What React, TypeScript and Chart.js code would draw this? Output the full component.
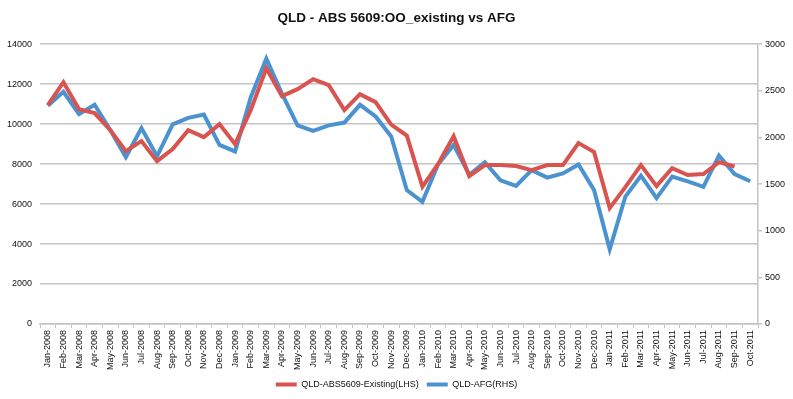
import React, { useEffect, useRef } from "react";
import { Chart, registerables } from "chart.js";

Chart.register(...registerables);

const categories: string[] = [
  "Jan-2008", "Feb-2008", "Mar-2008", "Apr-2008", "May-2008", "Jun-2008", "Jul-2008", "Aug-2008", "Sep-2008", "Oct-2008", "Nov-2008", "Dec-2008",
  "Jan-2009", "Feb-2009", "Mar-2009", "Apr-2009", "May-2009", "Jun-2009", "Jul-2009", "Aug-2009", "Sep-2009", "Oct-2009", "Nov-2009", "Dec-2009",
  "Jan-2010", "Feb-2010", "Mar-2010", "Apr-2010", "May-2010", "Jun-2010", "Jul-2010", "Aug-2010", "Sep-2010", "Oct-2010", "Nov-2010", "Dec-2010",
  "Jan-2011", "Feb-2011", "Mar-2011", "Apr-2011", "May-2011", "Jun-2011", "Jul-2011", "Aug-2011", "Sep-2011", "Oct-2011",
];

// Left axis (LHS)
const absExisting: (number | null)[] = [
  10950, 12100, 10750, 10550, 9700, 8650, 9150, 8150, 8750, 9700, 9350, 10000,
  9000, 10700, 12800, 11400, 11750, 12250, 11950, 10700, 11500, 11100, 9980, 9430,
  6870, 8000, 9400, 7400, 7950, 7950, 7900, 7700, 7950, 7950, 9050, 8600,
  5800, 6850, 7950, 6900, 7800, 7450, 7500, 8100, 7880, null,
];

// Right axis (RHS)
const afg: number[] = [
  2340, 2490, 2250, 2350, 2080, 1790, 2100, 1800, 2140, 2210, 2245, 1920,
  1850, 2430, 2845, 2470, 2130, 2070, 2130, 2160, 2350, 2225, 2010, 1435,
  1310, 1710, 1920, 1600, 1735, 1540, 1480, 1650, 1570, 1615, 1710, 1435,
  800, 1365, 1590, 1350, 1580, 1530, 1470, 1805, 1608, 1530,
];

const seriesNames = ["QLD-ABS5609-Existing(LHS)", "QLD-AFG(RHS)"];
const chartTitle = "QLD - ABS 5609:OO_existing vs AFG";

const RED = "#d9534f";
const BLUE = "#4a93d0";
const GRID = "#c4c4c4";
const FONT = "'Liberation Sans', Arial, sans-serif";

export default function App() {
  const ref = useRef<HTMLCanvasElement | null>(null);

  useEffect(() => {
    document.body.style.margin = "0";
    const canvas = ref.current;
    if (!canvas) return;
    const chart = new Chart(canvas, {
      type: "line",
      data: {
        labels: categories,
        datasets: [
          {
            label: seriesNames[0],
            data: absExisting,
            borderColor: RED,
            backgroundColor: RED,
            borderWidth: 4,
            pointRadius: 0,
            tension: 0,
            yAxisID: "y",
          },
          {
            label: seriesNames[1],
            data: afg,
            borderColor: BLUE,
            backgroundColor: BLUE,
            borderWidth: 4,
            pointRadius: 0,
            tension: 0,
            yAxisID: "y1",
          },
        ],
      },
      options: {
        responsive: false,
        animation: false,
        maintainAspectRatio: false,
        layout: { padding: { left: 0, right: 0, top: 0, bottom: 0 } },
        plugins: {
          tooltip: { enabled: false },
          title: {
            display: true,
            text: chartTitle,
            color: "#111",
            font: { family: FONT, size: 13.5, weight: "bold" },
            padding: { top: 10, bottom: 18 },
          },
          legend: {
            position: "bottom",
            labels: {
              color: "#111",
              font: { family: FONT, size: 9 },
              boxWidth: 21,
              boxHeight: 4,
              padding: 8,
              generateLabels: (c: any) =>
                Chart.defaults.plugins.legend.labels.generateLabels(c).map((l: any) => ({
                  ...l,
                  lineWidth: 0,
                })),
            },
          },
        },
        scales: {
          x: {
            type: "category",
            offset: true,
            grid: {
              display: true,
              drawOnChartArea: false,
              drawTicks: true,
              tickLength: 4,
              color: GRID,
              offset: true,
            },
            border: { display: true, color: GRID, width: 1.5 },
            ticks: {
              autoSkip: false,
              maxRotation: 90,
              minRotation: 90,
              color: "#111",
              font: { family: FONT, size: 9 },
              padding: 2,
            },
          },
          y: {
            type: "linear",
            position: "left",
            min: 0,
            max: 14000,
            afterFit: (s: any) => {
              s.width = 40;
            },
            ticks: {
              stepSize: 2000,
              color: "#111",
              font: { family: FONT, size: 9 },
              padding: 8,
              callback: (v: any) => String(v),
            },
            grid: { color: GRID, lineWidth: 1.5, drawTicks: false },
            border: { display: false },
          },
          y1: {
            type: "linear",
            position: "right",
            min: 0,
            max: 3000,
            afterFit: (s: any) => {
              s.width = 35;
            },
            ticks: {
              stepSize: 500,
              color: "#111",
              font: { family: FONT, size: 9 },
              padding: 3,
              callback: (v: any) => String(v),
            },
            grid: { drawOnChartArea: false, drawTicks: true, tickLength: 4, color: GRID, lineWidth: 1.5 },
            border: { display: true, color: GRID, width: 1.5 },
          },
        },
      },
    } as any);
    return () => chart.destroy();
  }, []);

  return (
    <div style={{ width: 793, height: 399, position: "relative" }}>
      <canvas ref={ref} width={793} height={399} style={{ display: "block" }} />
    </div>
  );
}
